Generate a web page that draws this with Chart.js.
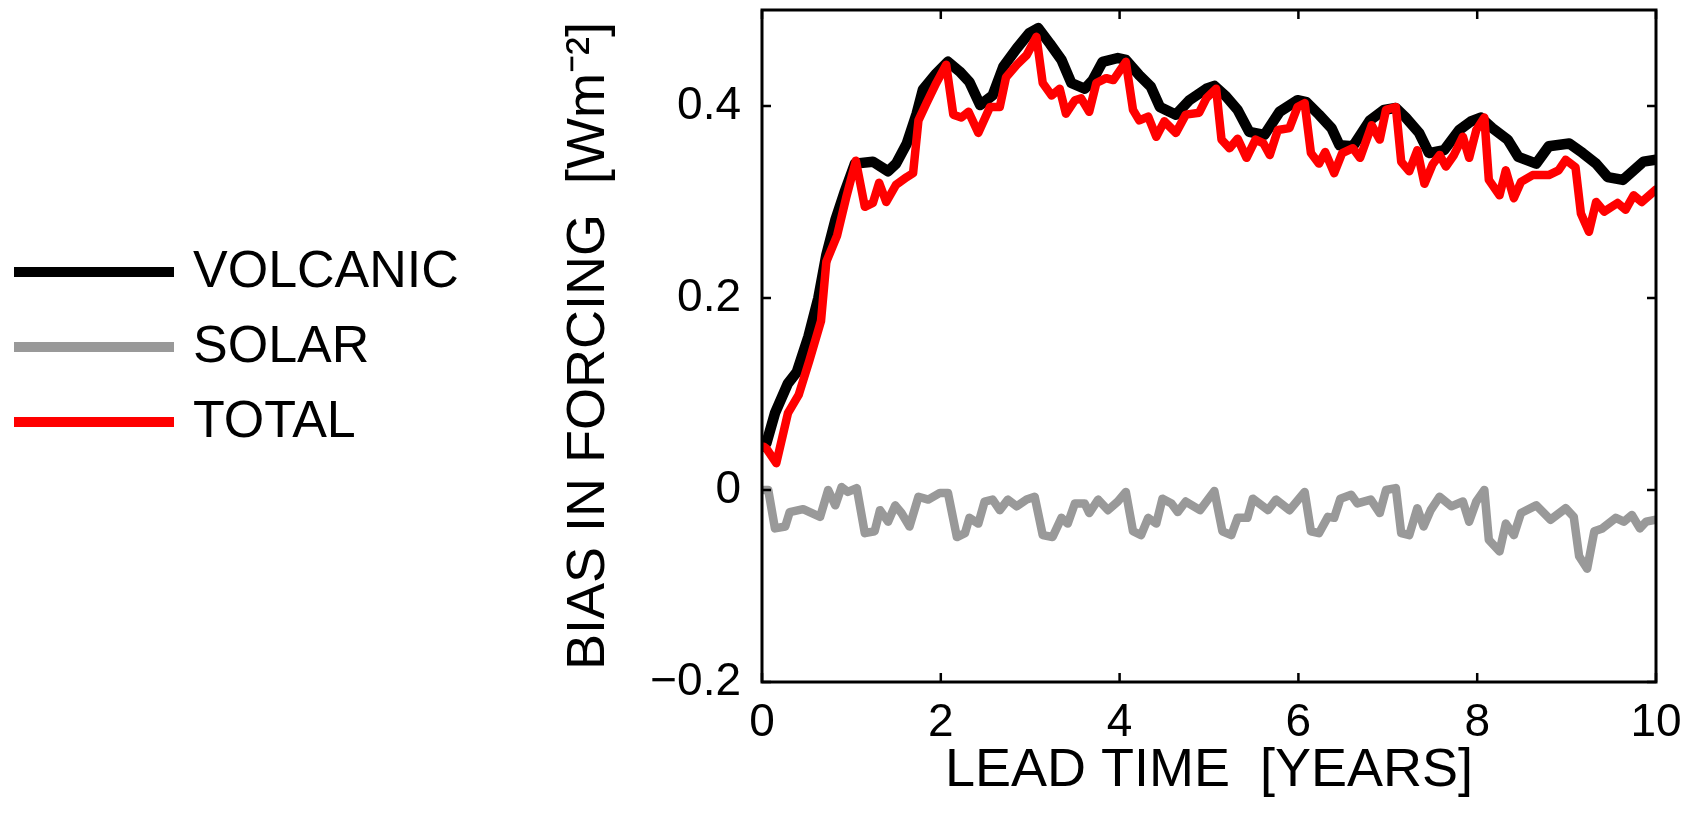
<!DOCTYPE html>
<html>
<head>
<meta charset="utf-8">
<script src="https://cdn.jsdelivr.net/npm/chart.js@4"></script>
<style>
  body { margin: 0; background: #fff; }
  canvas { display: block; }
</style>
</head>
<body>
<canvas id="chart" width="1698" height="825"></canvas>
<script>
// lead time in years and bias in forcing (W m^-2)
const volcanicX = [0.02, 0.05, 0.145, 0.29, 0.39, 0.52, 0.63, 0.72, 0.82, 0.93, 1.04, 1.24, 1.41, 1.50, 1.62, 1.73, 1.80, 1.95, 2.08, 2.21,
    2.32, 2.44, 2.58, 2.70, 2.85, 2.99, 3.09, 3.22, 3.35, 3.46, 3.61, 3.70, 3.81, 3.98, 4.07, 4.22, 4.35, 4.45, 4.63, 4.78,
    4.97, 5.06, 5.19, 5.32, 5.45, 5.62, 5.79, 5.99, 6.09, 6.23, 6.37, 6.46, 6.61, 6.80, 6.96, 7.09, 7.20, 7.35, 7.46, 7.63,
    7.80, 7.93, 8.04, 8.17, 8.34, 8.46, 8.66, 8.80, 9.03, 9.18, 9.33, 9.46, 9.63, 9.75, 9.86, 10.0];
const volcanicY = [0.045, 0.049, 0.080, 0.111, 0.123, 0.160, 0.200, 0.245, 0.281, 0.312, 0.340, 0.342, 0.332, 0.340, 0.361, 0.392, 0.417, 0.434, 0.446, 0.436,
    0.425, 0.401, 0.411, 0.441, 0.460, 0.476, 0.481, 0.465, 0.448, 0.424, 0.418, 0.427, 0.446, 0.450, 0.448, 0.432, 0.420, 0.399, 0.391, 0.406,
    0.418, 0.421, 0.410, 0.396, 0.373, 0.370, 0.394, 0.406, 0.404, 0.391, 0.377, 0.359, 0.358, 0.385, 0.396, 0.398, 0.388, 0.372, 0.351, 0.354,
    0.375, 0.384, 0.388, 0.377, 0.365, 0.347, 0.340, 0.358, 0.361, 0.351, 0.340, 0.326, 0.323, 0.333, 0.342, 0.344];

const solarX = [0.02, 0.07, 0.145, 0.26, 0.31, 0.46, 0.65, 0.74, 0.82, 0.89, 0.96, 1.06, 1.15, 1.26, 1.32, 1.41, 1.49, 1.56, 1.65, 1.75,
    1.86, 1.99, 2.08, 2.18, 2.27, 2.32, 2.42, 2.49, 2.58, 2.66, 2.75, 2.85, 2.96, 3.05, 3.14, 3.25, 3.35, 3.42, 3.50, 3.61,
    3.66, 3.76, 3.87, 3.98, 4.07, 4.15, 4.24, 4.32, 4.41, 4.48, 4.58, 4.65, 4.74, 4.90, 5.06, 5.15, 5.25, 5.32, 5.43, 5.49,
    5.66, 5.75, 5.90, 6.07, 6.14, 6.23, 6.33, 6.40, 6.47, 6.59, 6.66, 6.81, 6.91, 6.98, 7.09, 7.15, 7.24, 7.33, 7.40, 7.48,
    7.58, 7.71, 7.84, 7.91, 7.99, 8.08, 8.13, 8.25, 8.32, 8.41, 8.49, 8.66, 8.82, 8.99, 9.08, 9.14, 9.23, 9.31, 9.40, 9.55,
    9.64, 9.73, 9.82, 9.89, 10.0];
const solarY = [0.000, 0.000, -0.040, -0.038, -0.023, -0.020, -0.028, 0.000, -0.016, 0.003, -0.002, 0.002, -0.045, -0.043, -0.021, -0.033, -0.016, -0.024, -0.038, -0.007,
    -0.010, -0.003, -0.003, -0.049, -0.045, -0.029, -0.035, -0.012, -0.010, -0.021, -0.010, -0.017, -0.010, -0.007, -0.047, -0.049, -0.029, -0.035, -0.014, -0.014,
    -0.024, -0.010, -0.021, -0.012, -0.002, -0.043, -0.047, -0.029, -0.035, -0.009, -0.014, -0.023, -0.012, -0.021, -0.001, -0.043, -0.047, -0.029, -0.029, -0.009,
    -0.021, -0.010, -0.021, -0.002, -0.043, -0.045, -0.028, -0.029, -0.009, -0.005, -0.014, -0.010, -0.024, 0.000, 0.002, -0.045, -0.047, -0.019, -0.038, -0.021,
    -0.007, -0.017, -0.012, -0.033, -0.012, 0.000, -0.052, -0.064, -0.035, -0.047, -0.024, -0.016, -0.031, -0.019, -0.028, -0.069, -0.082, -0.043, -0.040, -0.029,
    -0.033, -0.026, -0.040, -0.033, -0.031];

const totalX = [0.02, 0.05, 0.16, 0.29, 0.41, 0.53, 0.66, 0.72, 0.84, 0.94, 1.05, 1.15, 1.24, 1.31, 1.39, 1.50, 1.62, 1.69, 1.75, 1.84,
    1.95, 2.06, 2.14, 2.23, 2.31, 2.42, 2.55, 2.66, 2.73, 2.85, 2.96, 3.07, 3.14, 3.24, 3.33, 3.40, 3.50, 3.57, 3.66, 3.74,
    3.85, 3.93, 4.07, 4.15, 4.22, 4.32, 4.41, 4.50, 4.63, 4.74, 4.89, 4.97, 5.08, 5.14, 5.23, 5.32, 5.42, 5.52, 5.61, 5.68,
    5.77, 5.90, 5.99, 6.07, 6.14, 6.23, 6.30, 6.40, 6.49, 6.61, 6.69, 6.82, 6.91, 6.98, 7.09, 7.15, 7.24, 7.33, 7.41, 7.50,
    7.58, 7.65, 7.74, 7.84, 7.91, 7.99, 8.08, 8.13, 8.25, 8.32, 8.41, 8.49, 8.62, 8.80, 8.91, 8.99, 9.10, 9.16, 9.25, 9.33,
    9.42, 9.57, 9.66, 9.75, 9.84, 10.0];
const totalY = [0.045, 0.043, 0.028, 0.080, 0.099, 0.135, 0.176, 0.238, 0.265, 0.304, 0.343, 0.295, 0.299, 0.320, 0.300, 0.318, 0.326, 0.330, 0.385, 0.403,
    0.424, 0.443, 0.391, 0.388, 0.394, 0.372, 0.399, 0.399, 0.430, 0.443, 0.453, 0.472, 0.424, 0.411, 0.418, 0.392, 0.406, 0.408, 0.394, 0.424,
    0.429, 0.427, 0.446, 0.396, 0.385, 0.389, 0.368, 0.384, 0.372, 0.391, 0.393, 0.408, 0.418, 0.365, 0.356, 0.366, 0.346, 0.365, 0.361, 0.349,
    0.375, 0.377, 0.399, 0.403, 0.351, 0.340, 0.352, 0.330, 0.351, 0.356, 0.346, 0.380, 0.365, 0.396, 0.399, 0.342, 0.332, 0.354, 0.319, 0.339,
    0.349, 0.337, 0.349, 0.368, 0.346, 0.375, 0.388, 0.323, 0.307, 0.333, 0.304, 0.321, 0.328, 0.328, 0.333, 0.344, 0.336, 0.288, 0.269, 0.300,
    0.290, 0.299, 0.292, 0.307, 0.300, 0.313];

const seriesNames = ["VOLCANIC", "SOLAR", "TOTAL"];
const seriesColors = ["#000000", "#999999", "#ff0000"];
const xTicks = [0, 2, 4, 6, 8, 10];
const yTicks = [-0.2, 0, 0.2, 0.4];

const FONT = '"Liberation Sans", Arial, Helvetica, sans-serif';
Chart.defaults.font.family = FONT;
Chart.defaults.color = "#000";

function toPoints(xs, ys) {
    return xs.map((x, i) => ({ x: x, y: ys[i] }));
}

function fmtTick(v) {
    if (v < 0) return "\u2212" + String(Math.abs(v));
    return String(v);
}

// matlab style box with inward ticks on all four sides
const frameBox = {
    id: "frameBox",
    afterDraw(chart) {
        const { ctx, chartArea: a, scales } = chart;
        const len = 9;
        ctx.save();
        ctx.strokeStyle = "#000";
        ctx.lineWidth = 2.5;
        ctx.beginPath();
        xTicks.forEach(v => {
            const px = scales.x.getPixelForValue(v);
            ctx.moveTo(px, a.bottom); ctx.lineTo(px, a.bottom - len);
            ctx.moveTo(px, a.top); ctx.lineTo(px, a.top + len);
        });
        yTicks.forEach(v => {
            const py = scales.y.getPixelForValue(v);
            ctx.moveTo(a.left, py); ctx.lineTo(a.left + len, py);
            ctx.moveTo(a.right, py); ctx.lineTo(a.right - len, py);
        });
        ctx.stroke();
        ctx.lineWidth = 3;
        ctx.strokeRect(a.left, a.top, a.right - a.left, a.bottom - a.top);
        ctx.restore();
    }
};

// legend sits far left, outside the axes
const sideLegend = {
    id: "sideLegend",
    afterDraw(chart) {
        const ctx = chart.ctx;
        const rows = [272, 347, 422];
        ctx.save();
        ctx.font = "52px " + FONT;
        ctx.textBaseline = "middle";
        ctx.textAlign = "left";
        seriesNames.forEach((name, i) => {
            ctx.strokeStyle = seriesColors[i];
            ctx.lineWidth = 10;
            ctx.lineCap = "butt";
            ctx.beginPath();
            ctx.moveTo(14, rows[i]);
            ctx.lineTo(174, rows[i]);
            ctx.stroke();
            ctx.fillStyle = "#000";
            ctx.fillText(name, 193, rows[i] + 1);
        });
        ctx.restore();
    }
};

const seriesData = [
    toPoints(volcanicX, volcanicY),
    toPoints(solarX, solarY),
    toPoints(totalX, totalY)
];
const lineWidths = [10.5, 8.5, 8.5];
const drawOrder = [2, 1, 0];

const ctx = document.getElementById("chart").getContext("2d");
const chart = new Chart(ctx, {
    type: "line",
    data: {
        datasets: seriesNames.map((name, i) => ({
            label: name,
            data: seriesData[i],
            borderColor: seriesColors[i],
            backgroundColor: seriesColors[i],
            borderWidth: lineWidths[i],
            borderJoinStyle: "round",
            borderCapStyle: "round",
            pointRadius: 0,
            tension: 0,
            order: drawOrder[i]
        }))
    },
    options: {
        responsive: false,
        animation: false,
        layout: { padding: { top: 10, right: 42, left: 0, bottom: 0 } },
        plugins: {
            legend: { display: false },
            tooltip: { enabled: false }
        },
        scales: {
            x: {
                type: "linear",
                min: 0,
                max: 10,
                afterBuildTicks: scale => { scale.ticks = xTicks.map(v => ({ value: v })); },
                afterFit: scale => {
                    scale.height = 143;
                    scale.paddingLeft = 0;
                    scale.paddingRight = 0;
                },
                grid: { display: false, drawTicks: false },
                border: { display: false },
                ticks: {
                    padding: 14,
                    maxRotation: 0,
                    font: { size: 46 },
                    callback: v => fmtTick(v)
                },
                title: {
                    display: true,
                    text: "LEAD TIME  [YEARS]",
                    font: { size: 54 },
                    padding: { top: 0, bottom: 21 }
                }
            },
            y: {
                type: "linear",
                min: -0.2,
                max: 0.5,
                afterBuildTicks: scale => { scale.ticks = yTicks.map(v => ({ value: v })); },
                afterFit: scale => {
                    scale.width = 762;
                    scale.paddingTop = 0;
                    scale.paddingBottom = 0;
                },
                grid: { display: false, drawTicks: false },
                border: { display: false },
                ticks: {
                    padding: 21,
                    font: { size: 46 },
                    callback: v => fmtTick(v)
                },
                title: {
                    display: true,
                    text: "BIAS IN FORCING  [Wm\u207B\u00B2]",
                    font: { size: 54 },
                    padding: { top: 557, bottom: 0 }
                }
            }
        }
    },
    plugins: [frameBox, sideLegend]
});
</script>
</body>
</html>
